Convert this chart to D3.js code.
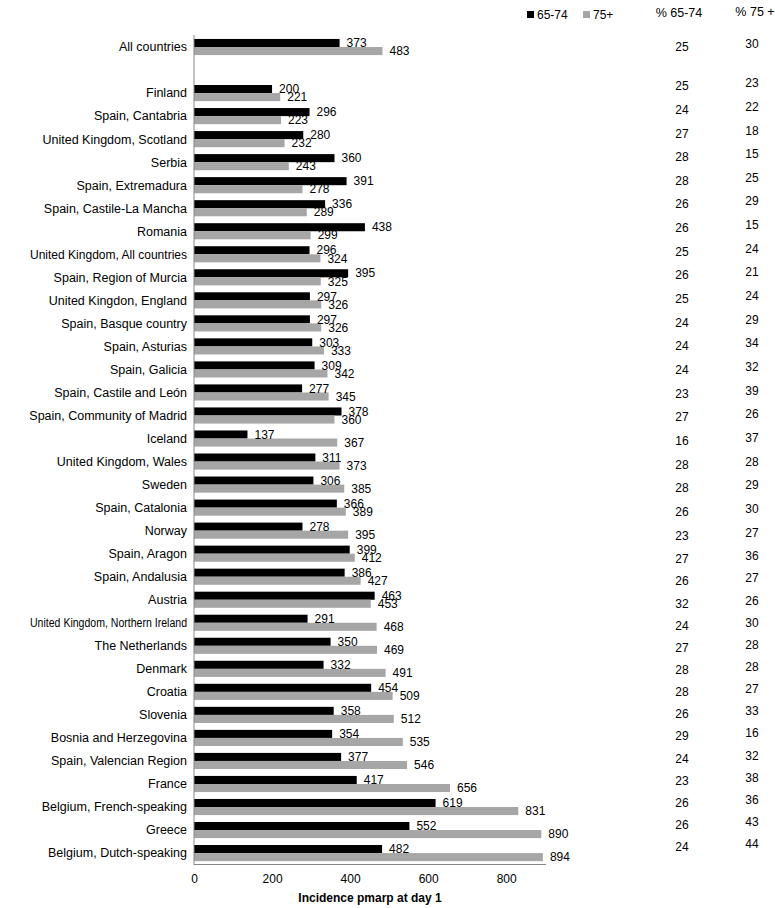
<!DOCTYPE html>
<html>
<head>
<meta charset="utf-8">
<script src="https://cdn.jsdelivr.net/npm/d3@7"></script>
<style>
  body { margin: 0; background: #fff; }
  text { font-family: "Liberation Sans", Arial, sans-serif; fill: #000; }
</style>
</head>
<body>
<svg id="chart" width="775" height="908"></svg>
<script>
// categories top to bottom, "" is the empty spacer row after "All countries"
var categories = ['All countries', '', 'Finland', 'Spain, Cantabria', 'United Kingdom, Scotland', 'Serbia',
  'Spain, Extremadura', 'Spain, Castile-La Mancha', 'Romania', 'United Kingdom, All countries',
  'Spain, Region of Murcia', 'United Kingdon, England', 'Spain, Basque country', 'Spain, Asturias',
  'Spain, Galicia', 'Spain, Castile and León', 'Spain, Community of Madrid', 'Iceland',
  'United Kingdom, Wales', 'Sweden', 'Spain, Catalonia', 'Norway', 'Spain, Aragon', 'Spain, Andalusia',
  'Austria', 'United Kingdom, Northern Ireland', 'The Netherlands', 'Denmark', 'Croatia', 'Slovenia',
  'Bosnia and Herzegovina', 'Spain, Valencian Region', 'France', 'Belgium, French-speaking', 'Greece',
  'Belgium, Dutch-speaking']
var age6574 = [373, null, 200, 296, 280, 360, 391, 336, 438, 296, 395, 297, 297, 303, 309, 277, 378, 137,
  311, 306, 366, 278, 399, 386, 463, 291, 350, 332, 454, 358, 354, 377, 417, 619, 552, 482]
var age75 = [483, null, 221, 223, 232, 243, 278, 289, 299, 324, 325, 326, 326, 333, 342, 345, 360, 367,
  373, 385, 389, 395, 412, 427, 453, 468, 469, 491, 509, 512, 535, 546, 656, 831, 890, 894]
var pct6574 = [25, null, 25, 24, 27, 28, 28, 26, 26, 25, 26, 25, 24, 24, 24, 23, 27, 16, 28, 28, 26, 23, 27,
  26, 32, 24, 27, 28, 28, 26, 29, 24, 23, 26, 26, 24]
var pct75 = [30, null, 23, 22, 18, 15, 25, 29, 15, 24, 21, 24, 29, 34, 32, 39, 26, 37, 28, 29, 30, 27, 36,
  27, 26, 30, 28, 28, 27, 33, 16, 32, 38, 36, 43, 44]
var seriesNames = ['65-74', '75+']
var colHeaders = ['% 65-74', '% 75 +']
var xTicks = [0, 200, 400, 600, 800]

var svg = d3.select('#chart')
var colors = ['#000000', '#a6a6a6']

var x = d3.scaleLinear().domain([0, 902]).range([194, 546])
var y = d3.scaleBand().domain(d3.range(categories.length)).range([35.5, 864.6])
  .paddingInner(0.3).paddingOuter(0.15)
var sub = d3.scaleBand().domain([0, 1]).range([0, y.bandwidth()])

var rows = categories.map(function (c, i) {
  return { i: i, name: c, vals: [age6574[i], age75[i]], pcts: [pct6574[i], pct75[i]] }
})

/** category labels, the longest one is squeezed a little as in the original */
svg.append('g').selectAll('text').data(rows).enter().append('text')
  .attr('x', 187).attr('y', function (d) { return y(d.i) + y.bandwidth() / 2 })
  .attr('dy', '0.35em').attr('text-anchor', 'end').style('font-size', '12.5px')
  .text(function (d) { return d.name })
  .each(function () {
    if (this.getComputedTextLength() > 160) {
      d3.select(this).attr('textLength', 157).attr('lengthAdjust', 'spacingAndGlyphs')
    }
  })

/** bars and value labels */
var g = svg.append('g').selectAll('g').data(rows.filter(function (d) { return d.vals[0] != null }))
  .enter().append('g').attr('transform', function (d) { return 'translate(0,' + y(d.i) + ')' })

g.selectAll('rect').data(function (d) { return d.vals }).enter().append('rect')
  .attr('x', x(0)).attr('y', function (v, k) { return sub(k) })
  .attr('width', function (v) { return x(v) - x(0) }).attr('height', sub.bandwidth())
  .attr('fill', function (v, k) { return colors[k] })

g.selectAll('text').data(function (d) { return d.vals }).enter().append('text')
  .attr('x', function (v) { return x(v) + 7 })
  .attr('y', function (v, k) { return sub(k) + sub.bandwidth() / 2 })
  .attr('dy', '0.35em').style('font-size', '12px')
  .text(function (v) { return v })

/** axes */
svg.append('line').attr('x1', x(0)).attr('x2', x(0)).attr('y1', 35).attr('y2', 865)
  .attr('stroke', '#868686').attr('stroke-width', 1)
svg.append('line').attr('x1', x(0)).attr('x2', x(902)).attr('y1', 864.5).attr('y2', 864.5)
  .attr('stroke', '#868686').attr('stroke-width', 1)

var xAxis = svg.append('g').attr('transform', 'translate(0,873)')
  .call(d3.axisBottom(x).tickValues(xTicks).tickSize(0).tickPadding(0))
xAxis.select('.domain').remove()
xAxis.selectAll('text').attr('dy', '0.8em').style('font-size', '12px')
  .style('font-family', '"Liberation Sans", Arial, sans-serif').attr('fill', '#000')

svg.append('text').attr('x', 370).attr('y', 902).attr('text-anchor', 'middle')
  .style('font-size', '12px').style('font-weight', 'bold').text('Incidence pmarp at day 1')

/** legend */
var leg = svg.append('g').selectAll('g').data(seriesNames).enter().append('g')
  .attr('transform', function (d, k) { return 'translate(' + (527 + k * 56) + ',0)' })
leg.append('rect').attr('x', 0).attr('y', 11).attr('width', 7).attr('height', 7)
  .attr('fill', function (d, k) { return colors[k] })
leg.append('text').attr('x', 10).attr('y', 15).attr('dy', '0.35em').style('font-size', '12px')
  .text(function (d) { return d })

/** percentage table on the right */
var colX = [682, 752]
var tableY = d3.scaleLinear().domain([0, 2, 22, 35]).range([47, 86, 559, 847])
svg.append('g').selectAll('text').data(colHeaders).enter().append('text')
  .attr('x', function (d, k) { return colX[k] - (k ? -3 : 3) }).attr('y', function (d, k) { return 13 - k })
  .attr('dy', '0.35em').attr('text-anchor', 'middle').style('font-size', '12.5px')
  .text(function (d) { return d })

var tr = svg.append('g').selectAll('g').data(rows.filter(function (d) { return d.pcts[0] != null }))
  .enter().append('g')
tr.selectAll('text').data(function (d) { return d.pcts.map(function (p) { return { p: p, i: d.i } }) })
  .enter().append('text')
  .attr('x', function (d, k) { return colX[k] })
  .attr('y', function (d, k) { return tableY(d.i) - (k ? 3 : 0) })
  .attr('dy', '0.35em').attr('text-anchor', 'middle').style('font-size', '12px')
  .text(function (d) { return d.p })
</script>
</body>
</html>
